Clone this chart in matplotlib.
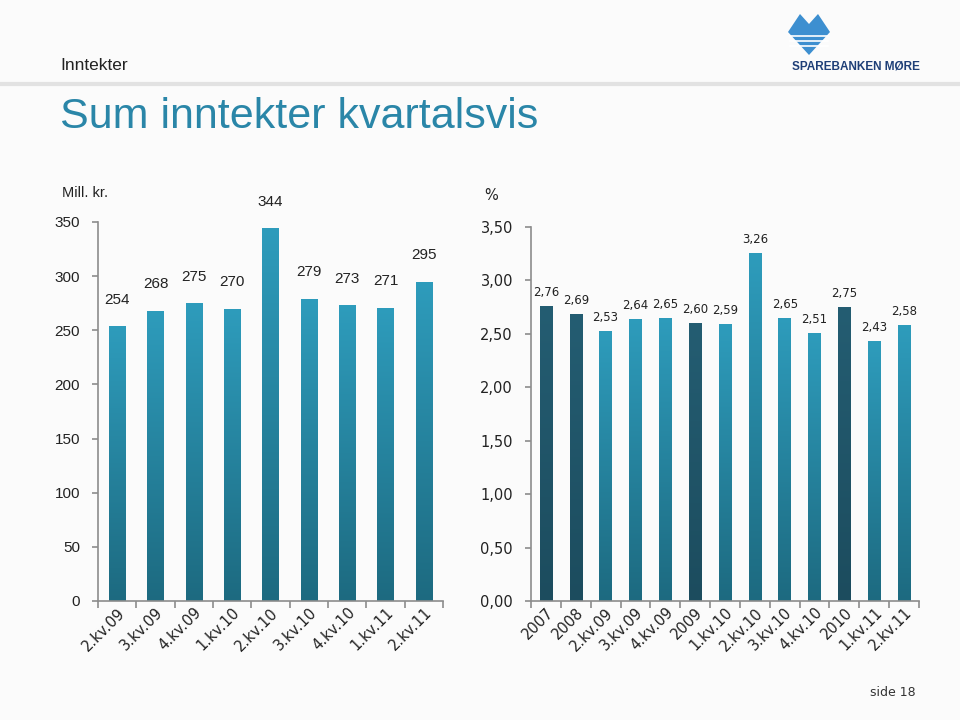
import numpy as np
import matplotlib
matplotlib.use("Agg")
import matplotlib.pyplot as plt
from matplotlib.colors import LinearSegmentedColormap
from matplotlib.patches import Polygon

# ---- data ----
left_categories = ["2.kv.09", "3.kv.09", "4.kv.09", "1.kv.10", "2.kv.10",
                   "3.kv.10", "4.kv.10", "1.kv.11", "2.kv.11"]
left_values = [254, 268, 275, 270, 344, 279, 273, 271, 295]
left_labels = ["254", "268", "275", "270", "344", "279", "273", "271", "295"]
left_yticks = [0, 50, 100, 150, 200, 250, 300, 350]

right_categories = ["2007", "2008", "2.kv.09", "3.kv.09", "4.kv.09", "2009",
                    "1.kv.10", "2.kv.10", "3.kv.10", "4.kv.10", "2010",
                    "1.kv.11", "2.kv.11"]
right_values = [2.76, 2.69, 2.53, 2.64, 2.65, 2.60, 2.59, 3.26, 2.65, 2.51,
                2.75, 2.43, 2.58]
right_is_year = [True, True, False, False, False, True, False, False, False,
                 False, True, False, False]
right_yticks = [0.0, 0.5, 1.0, 1.5, 2.0, 2.5, 3.0, 3.5]

BG = "#fbfbfb"
AXC = "#8c8c8c"
cm_light = LinearSegmentedColormap.from_list("l", ["#1d6a80", "#2e9cbc"])
cm_dark = LinearSegmentedColormap.from_list("d", ["#1c4c5e", "#245d72"])

fig = plt.figure(figsize=(9.6, 7.2), dpi=100, facecolor=BG)

# header
fig.text(60 / 960, 1 - 66 / 720, "Inntekter", fontsize=12.5, family="Liberation Sans",
         color="#222222", va="center", ha="left")
fig.text(60 / 960, 1 - 117 / 720, "Sum inntekter kvartalsvis", fontsize=31,
         family="Liberation Sans", color="#2a86a8", va="center", ha="left")
fig.add_artist(plt.Line2D([0, 1], [1 - 84 / 720] * 2, transform=fig.transFigure,
                          color="#e2e2e2", lw=3))
fig.text(856 / 960, 1 - 66 / 720, "SPAREBANKEN MØRE", fontsize=8.5, weight="bold",
         family="Liberation Sans", color="#1f3f77", va="center", ha="center")
logo = Polygon([[788 / 960, 1 - 32 / 720], [800 / 960, 1 - 14 / 720],
                [809 / 960, 1 - 24 / 720], [818 / 960, 1 - 14 / 720],
                [830 / 960, 1 - 32 / 720], [809 / 960, 1 - 55 / 720]],
               closed=True, transform=fig.transFigure,
               facecolor="#3d8fd0", edgecolor="none")
fig.add_artist(logo)
for yy in [36, 41, 46]:
    fig.add_artist(plt.Line2D([790 / 960, 828 / 960], [1 - yy / 720] * 2,
                              transform=fig.transFigure, color="white", lw=1.2))
fig.text(62 / 960, 1 - 193 / 720, "Mill. kr.", fontsize=10.5, family="Liberation Sans",
         color="#222222", va="center", ha="left")
fig.text(484 / 960, 1 - 196 / 720, "%", fontsize=10.5, family="DejaVu Sans",
         color="#222222", va="center", ha="left")
fig.text(893 / 960, 1 - 693 / 720, "side 18", fontsize=9, family="DejaVu Sans",
         color="#333333", va="center", ha="center")


def gradient_bars(ax, x, vals, cmaps, width):
    bars = ax.bar(x, vals, width=width, color="none", edgecolor="none", zorder=2)
    grad = np.linspace(0, 1, 256).reshape(-1, 1)
    for b, cmap in zip(bars, cmaps):
        x0, y0 = b.get_x(), b.get_y()
        im = ax.imshow(grad, cmap=cmap, origin="lower", aspect="auto",
                       extent=[x0, x0 + b.get_width(), y0, y0 + b.get_height()],
                       zorder=2)
        im.set_clip_path(b)
    return bars


def style_axes(ax, n):
    ax.set_facecolor("none")
    for s in ["top", "right"]:
        ax.spines[s].set_visible(False)
    for s in ["left", "bottom"]:
        ax.spines[s].set_color(AXC)
        ax.spines[s].set_linewidth(1.2)
    ax.set_xlim(-0.5, n - 0.5)
    ax.set_xticks(np.arange(-0.5, n, 1.0), minor=True)
    ax.tick_params(axis="x", which="minor", length=5, color=AXC, width=1.2)
    ax.tick_params(axis="x", which="major", length=0, pad=3)
    ax.tick_params(axis="y", length=4, color=AXC, width=1.2, pad=9)


# ---- left chart ----
axL = fig.add_axes([98 / 960, 119 / 720, 345 / 960, 379 / 720])
xl = np.arange(len(left_values))
gradient_bars(axL, xl, left_values, [cm_light] * len(left_values), 0.42)
style_axes(axL, len(left_values))
axL.set_ylim(0, 350)
axL.set_yticks(left_yticks)
axL.set_yticklabels([str(v) for v in left_yticks], fontsize=11,
                    family="Liberation Sans", color="#222222")
axL.set_xticks(xl)
axL.set_xticklabels(left_categories, rotation=45, ha="right", rotation_mode="anchor",
                    fontsize=10.5, family="DejaVu Sans", color="#222222")
for x, v, t in zip(xl, left_values, left_labels):
    axL.annotate(t, (x, v), xytext=(0, 14), textcoords="offset points",
                 ha="center", va="bottom", fontsize=11, family="Liberation Sans",
                 color="#222222")

# ---- right chart ----
axR = fig.add_axes([531 / 960, 119 / 720, 388 / 960, 374 / 720])
xr = np.arange(len(right_values))
gradient_bars(axR, xr, right_values,
              [cm_dark if y else cm_light for y in right_is_year], 0.42)
style_axes(axR, len(right_values))
axR.set_ylim(0, 3.5)
axR.set_yticks(right_yticks)
axR.set_yticklabels([f"{v:.2f}".replace(".", ",") for v in right_yticks], fontsize=10.5,
                    family="DejaVu Sans", color="#222222")
axR.set_xticks(xr)
axR.set_xticklabels(right_categories, rotation=45, ha="right", rotation_mode="anchor",
                    fontsize=10.5, family="DejaVu Sans", color="#222222")
for x, v in zip(xr, right_values):
    axR.annotate(f"{v:.2f}".replace(".", ","), (x, v), xytext=(0, 5),
                 textcoords="offset points", ha="center", va="bottom", fontsize=8.5,
                 family="DejaVu Sans", color="#222222")

fig.savefig("out.png", dpi=100, facecolor=BG)
